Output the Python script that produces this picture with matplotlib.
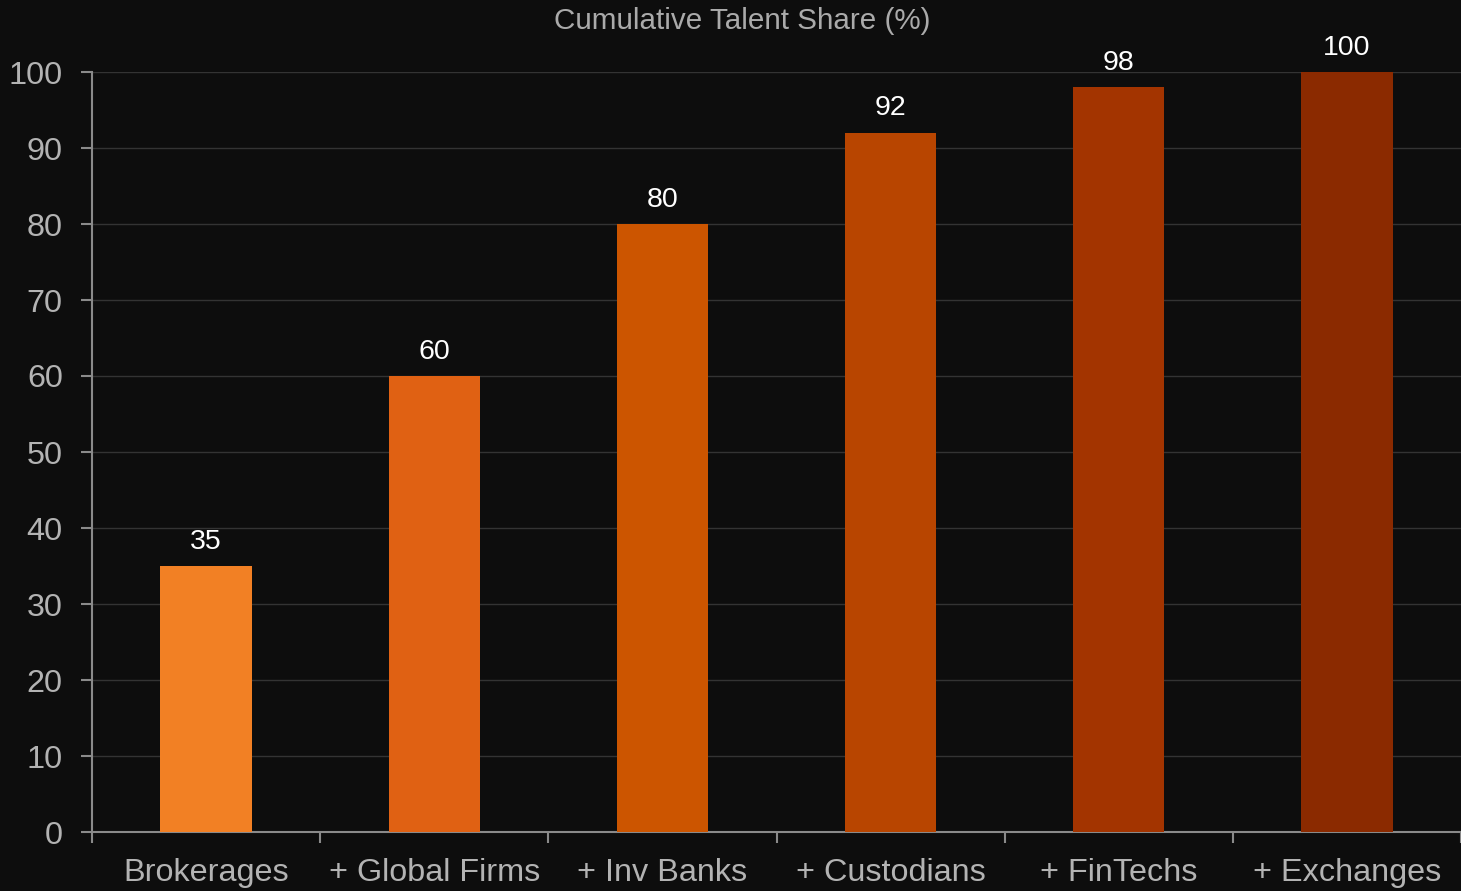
import matplotlib
matplotlib.use("Agg")
import matplotlib.pyplot as plt
import numpy as np

categories = ["Brokerages", "+ Global Firms", "+ Inv Banks", "+ Custodians", "+ FinTechs", "+ Exchanges"]
shares = [35, 60, 80, 92, 98, 100]
bar_colors = ["#F28024", "#E06113", "#CC5500", "#B84500", "#A33400", "#8B2A00"]

plt.rcParams['font.family'] = ['Liberation Sans', 'DejaVu Sans']

bg = "#0D0D0D"
fig = plt.figure(figsize=(14.61, 8.91), dpi=100, facecolor=bg)
ax = fig.add_axes([92/1461, 1 - 832/891, 1 - 92/1461, (832 - 72)/891])
ax.set_facecolor(bg)

x = np.arange(len(categories))
ax.bar(x, shares, width=0.4, color=bar_colors, zorder=3)
for xi, v in zip(x, shares):
    ax.text(xi, v + 1.5, str(v), ha="center", va="bottom", color="white", fontsize=20.5)

ax.set_xlim(-0.5, len(categories) - 0.5)
ax.set_ylim(0, 100)
ax.set_yticks(range(0, 101, 10))
ax.set_xticks(x)
ax.set_xticklabels(categories)
ax.set_xticks(np.arange(-0.5, len(categories), 1), minor=True)
ax.tick_params(axis="x", which="major", length=0, pad=19, labelsize=23.3, labelcolor="#B3B3B3")
ax.tick_params(axis="x", which="minor", length=8, width=1.5, color="#8A8A8A", direction="out")
ax.tick_params(axis="y", length=8, width=1.5, color="#8A8A8A", labelsize=23.3, labelcolor="#B3B3B3", pad=13)

ax.grid(axis="y", color="#333333", linewidth=1, zorder=0)
for s in ["top", "right"]:
    ax.spines[s].set_visible(False)
for s in ["left", "bottom"]:
    ax.spines[s].set_color("#8A8A8A")
    ax.spines[s].set_linewidth(1.5)

fig.text(742/1461, 1 - 21/891, "Cumulative Talent Share (%)", ha="center", va="center",
         color="#AAAAAA", fontsize=21.3)

fig.savefig("out.png", dpi=100, facecolor=bg)
